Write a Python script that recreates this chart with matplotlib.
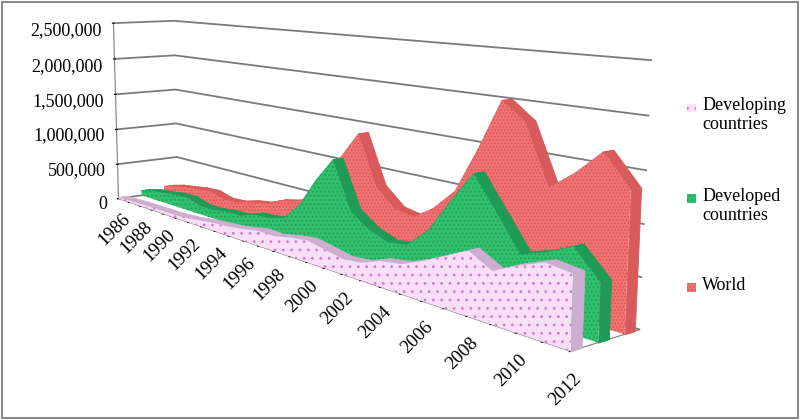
import numpy as np
import matplotlib.pyplot as plt
from matplotlib.patches import Rectangle
from mpl_toolkits.mplot3d.art3d import Poly3DCollection

plt.rcParams['font.family'] = ['Liberation Serif', 'DejaVu Serif']
plt.rcParams['hatch.linewidth'] = 0.8

# FDI inflows, US$ million
years = list(range(1986, 2013))
developing = [15700, 21300, 29000, 30700, 35000, 38000, 52000, 77000, 104000,
              117000, 147000, 186000, 181000, 226000, 256000, 215000, 173000,
              195000, 282000, 316000, 412000, 530000, 650000, 519000, 637000,
              735000, 703000]
developed = [70500, 115000, 135000, 166000, 172000, 116000, 113000, 145000,
             149000, 219000, 235000, 286000, 503000, 849000, 1136000, 597000,
             442000, 361000, 396000, 613000, 972000, 1306000, 965000, 618000,
             703000, 820000, 561000]
world = [86540, 136339, 164370, 197154, 207455, 154071, 165883, 223316,
         256002, 342544, 389815, 481911, 690905, 1086750, 1400541, 827617,
         627975, 586956, 744329, 980727, 1463351, 2002695, 1816398, 1216475,
         1408537, 1651511, 1350926]

series_names = ['Developing\ncountries', 'Developed\ncountries', 'World']
series_values = [developing, developed, world]
face_colors = ['#f8def6', '#31c06e', '#f27373']
top_colors = ['#cdaed0', '#1f9b55', '#d85a5a']
dot_colors = ['#d27ad2', '#20a055', '#d95555']
hatches = ['..', '....', '.....']

z_ticks = [0, 500000, 1000000, 1500000, 2000000, 2500000]
x_ticks = list(range(1986, 2013, 2))

fig = plt.figure(figsize=(8, 4.2), dpi=100)
ax = fig.add_axes([-0.0535, 0.0786, 0.9, 1.12], projection='3d', computed_zorder=False)
ax.set_proj_type('persp', focal_length=0.457)
ax.view_init(elev=9.2, azim=-38)
ax.set_box_aspect((1, 0.118, 0.302), zoom=1.546)

gap = 1.0
thick = 0.4
x = np.array(years, dtype=float)
for k in [2, 1, 0]:
    v = np.array(series_values[k], dtype=float)
    y0, y1 = k * gap, k * gap + thick
    strips = [[(x[i], y0, v[i]), (x[i + 1], y0, v[i + 1]),
               (x[i + 1], y1, v[i + 1]), (x[i], y1, v[i])]
              for i in range(len(x) - 1)]
    cap = [[(x[-1], y0, 0), (x[-1], y0, v[-1]), (x[-1], y1, v[-1]), (x[-1], y1, 0)]]
    front = [[(x[0], y0, 0)] + [(x[i], y0, v[i]) for i in range(len(x))] + [(x[-1], y0, 0)]]
    parts = [
        Poly3DCollection(strips, facecolor=top_colors[k], edgecolor=top_colors[k],
                         linewidth=0.6),
        Poly3DCollection(cap, facecolor=top_colors[k], edgecolor=top_colors[k],
                         linewidth=0.6),
        Poly3DCollection(front, facecolor=face_colors[k], edgecolor=dot_colors[k],
                         linewidth=0, hatch=hatches[k]),
    ]
    for j, pc in enumerate(parts):
        pc.set_zorder(10 * (3 - k) + j)
        pc.set_clip_on(False)
        ax.add_collection3d(pc)

ax.set_xlim(1986, 2012)
ax.set_ylim(0, 2.6)
ax.set_zlim(0, 2500000)
ax.set_xticks(years)
ax.set_xticklabels([str(y) if y in x_ticks else '' for y in years],
                   rotation=45, ha='center', va='top', fontsize=13.5)
ax.set_yticks([])
ax.set_zticks(z_ticks)
ax.set_zticklabels(['{:,}'.format(z) for z in z_ticks], ha='right', fontsize=13)
ax.zaxis.set_ticks_position('lower')
ax.zaxis.set_tick_params(pad=-2)

for axis in (ax.xaxis, ax.yaxis, ax.zaxis):
    axis.set_pane_color((1, 1, 1, 0))
    axis.pane.set_edgecolor('none')
    axis.line.set_color('#7f7f7f')
    axis._axinfo['tick']['color'] = '#7f7f7f'
ax.xaxis._axinfo['grid']['color'] = (1, 1, 1, 0)
ax.yaxis._axinfo['grid']['color'] = (1, 1, 1, 0)
ax.zaxis._axinfo['grid']['color'] = '#7a7a7a'
ax.zaxis._axinfo['grid']['linewidth'] = 1.3

# legend, markers level with the first line of each label
legend_y = [0.742, 0.526, 0.314]
for k in range(3):
    fig.patches.append(Rectangle((0.859, legend_y[k] - 0.009), 0.011, 0.02,
                                 transform=fig.transFigure, facecolor=face_colors[k],
                                 edgecolor=dot_colors[k], hatch=hatches[k], linewidth=0))
    fig.text(0.878, legend_y[k] + 0.026, series_names[k], ha='left', va='top',
             fontsize=13, linespacing=1.15)

fig.patches.append(Rectangle((0.003, 0.005), 0.994, 0.99, transform=fig.transFigure,
                             fill=False, edgecolor='#8c8c8c', linewidth=1.5))

fig.savefig('out.png', dpi=100)
